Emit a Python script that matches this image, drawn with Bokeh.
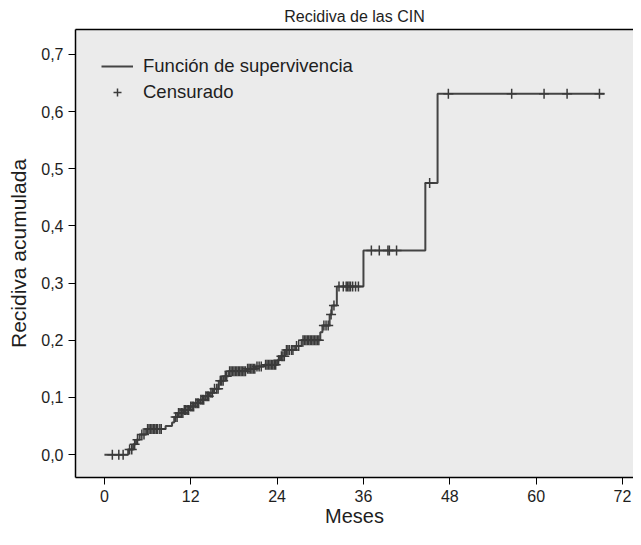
import numpy as np
from bokeh.plotting import figure
from bokeh.models import (Range1d, FixedTicker, CustomJSTickFormatter, Legend,
                          LegendItem, LinearAxis)
from bokeh.embed import file_html
from bokeh.resources import INLINE

# ---------------- data ----------------
title_text = "Recidiva de las CIN"
x_label = "Meses"
y_label = "Recidiva acumulada"
x_ticks = [0, 12, 24, 36, 48, 60, 72]
y_ticks = [0.0, 0.1, 0.2, 0.3, 0.4, 0.5, 0.6, 0.7]

# months at which the cumulative recurrence changes, and the new value
event_months = [0.0, 3.3, 4.0, 4.4, 4.9, 5.8, 8.5, 9.4, 9.7, 10.2, 11.0, 11.8,
                12.6, 13.3, 14.0, 14.6, 15.2, 15.9, 16.6, 17.3, 19.8, 21.0,
                22.2, 24.0, 24.4, 25.1, 26.5, 27.4, 30.0, 30.3, 31.3, 31.6,
                32.3, 36.0, 44.6, 46.3]
cum_recurrence = [0.000, 0.009, 0.018, 0.026, 0.035, 0.045, 0.050, 0.056,
                  0.066, 0.073, 0.078, 0.084, 0.090, 0.096, 0.102, 0.108,
                  0.115, 0.129, 0.137, 0.146, 0.150, 0.154, 0.157, 0.165,
                  0.172, 0.183, 0.190, 0.200, 0.214, 0.226, 0.245, 0.261,
                  0.294, 0.357, 0.475, 0.631]
last_month = 69.5

censored_months = [1.1, 2.0, 2.6, 3.5, 3.8, 4.2, 4.6, 5.2, 5.5, 6.0, 6.2, 6.4,
                   6.6, 6.8, 7.0, 7.2, 7.4, 7.7, 7.9, 9.9, 10.1, 10.3, 10.5,
                   10.7, 10.9, 11.1, 11.3, 11.5, 11.7, 12.0, 12.2, 12.4, 12.7,
                   12.9, 13.1, 13.4, 13.6, 13.8, 14.1, 14.3, 14.5, 14.8, 15.0,
                   15.3, 15.6, 15.8, 16.1, 16.3, 16.5, 16.8, 17.0, 17.4, 17.6,
                   17.8, 18.0, 18.2, 18.4, 18.6, 18.8, 19.0, 19.2, 19.4, 19.6,
                   19.9, 20.1, 20.3, 20.5, 20.7, 20.9, 21.2, 21.5, 21.8, 22.4,
                   22.6, 22.8, 23.0, 23.2, 23.4, 23.6, 23.8, 24.2, 24.6, 24.8,
                   25.0, 25.3, 25.5, 25.7, 26.0, 26.2, 26.7, 27.0, 27.6, 27.8,
                   28.0, 28.2, 28.4, 28.6, 28.8, 29.0, 29.2, 29.4, 29.6, 29.8,
                   30.5, 30.8, 31.1, 31.5, 31.9, 32.6, 33.2, 33.6, 33.8, 34.0,
                   34.2, 34.5, 34.9, 35.3, 37.1, 38.2, 39.4, 39.6, 40.6, 45.2,
                   47.8, 56.6, 61.1, 64.3, 68.8]

# ---------------- derived arrays ----------------
line_x = event_months + [last_month]
line_y = cum_recurrence + [cum_recurrence[-1]]
idx = np.searchsorted(np.array(event_months), np.array(censored_months), side="right") - 1
cens_y = [cum_recurrence[i] for i in idx]

FONT = "Liberation Sans"
DARK = "#444444"
TXT = "#1e1e1e"

p = figure(width=633, height=529, output_backend="svg", toolbar_location=None,
           x_range=Range1d(-4.02, 73.53), y_range=Range1d(-0.040, 0.7435),
           min_border_left=75, min_border_right=0, min_border_top=27,
           min_border_bottom=52)
p.background_fill_color = "#ebebeb"
p.border_fill_color = "white"
p.outline_line_color = None
p.grid.visible = False

p.title.text = title_text
p.title.align = "center"
p.title.text_font = FONT
p.title.text_font_size = "16px"
p.title.text_font_style = "normal"
p.title.text_color = TXT

step_r = p.step(line_x, line_y, mode="after", line_width=2, line_color=DARK)
cross_r = p.scatter(censored_months, cens_y, marker="cross", size=10,
                    line_width=1.5, line_color="#3a3a3a")

for ax in (p.xaxis[0], p.yaxis[0]):
    ax.axis_line_color = "black"
    ax.axis_line_width = 1.5
    ax.major_tick_line_color = "black"
    ax.major_tick_in = 0
    ax.major_tick_out = 7
    ax.minor_tick_line_color = None
    ax.major_label_text_font = FONT
    ax.major_label_text_font_size = "16px"
    ax.major_label_text_color = TXT
    ax.axis_label_text_font = FONT
    ax.axis_label_text_font_size = "21px"
    ax.axis_label_text_font_style = "normal"
    ax.axis_label_text_color = TXT

p.xaxis[0].ticker = FixedTicker(ticks=x_ticks)
p.yaxis[0].ticker = FixedTicker(ticks=y_ticks)
p.yaxis[0].formatter = CustomJSTickFormatter(code="return tick.toFixed(1).replace('.', ',');")
p.xaxis[0].axis_label = x_label
p.yaxis[0].axis_label = y_label
p.xaxis[0].axis_label_text_font_size = "20px"
p.xaxis[0].major_label_standoff = 5
p.xaxis[0].axis_label_standoff = 0
p.yaxis[0].major_label_standoff = 5
p.yaxis[0].axis_label_standoff = 8

top = LinearAxis(ticker=FixedTicker(ticks=[]), axis_line_color="black",
                 axis_line_width=1.5, major_tick_line_color=None,
                 minor_tick_line_color=None, major_label_text_font_size="0px")
p.add_layout(top, "above")

legend = Legend(items=[LegendItem(label="Función de supervivencia", renderers=[step_r]),
                       LegendItem(label="Censurado", renderers=[cross_r])],
                location="top_left", margin=24, padding=2, spacing=4,
                glyph_width=32, glyph_height=20, label_height=20,
                label_standoff=10, label_text_font=FONT,
                label_text_font_size="18.5px", label_text_color=TXT,
                background_fill_alpha=0, border_line_alpha=0)
p.add_layout(legend)

open("out.html", "w").write(file_html(p, INLINE))
